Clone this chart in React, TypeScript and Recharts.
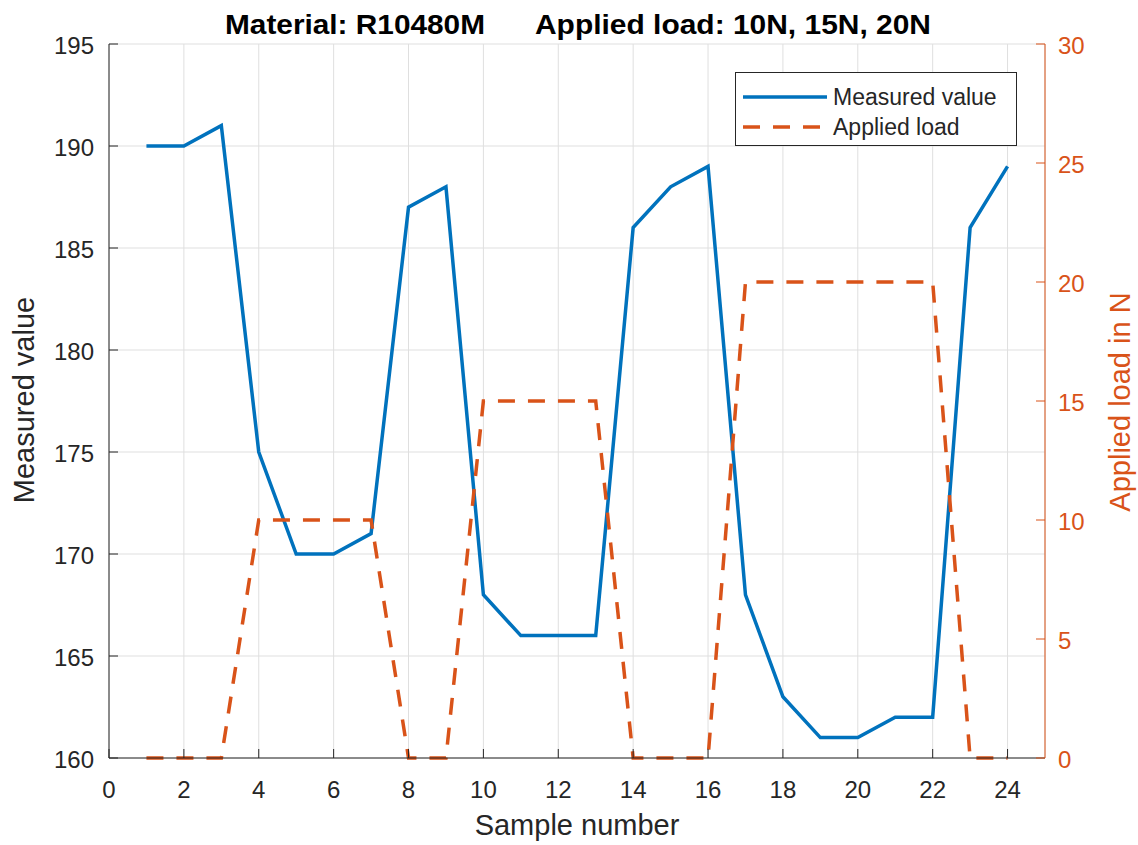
import { LineChart, Line, XAxis, YAxis, CartesianGrid, Legend, Customized } from 'recharts';

const samples = [1, 2, 3, 4, 5, 6, 7, 8, 9, 10, 11, 12, 13, 14, 15, 16, 17, 18, 19, 20, 21, 22, 23, 24];
const measured = [190, 190, 191, 175, 170, 170, 171, 187, 188, 168, 166, 166, 166, 186, 188, 189, 168, 163, 161, 161, 162, 162, 186, 189];
const load = [0, 0, 0, 10, 10, 10, 10, 0, 0, 15, 15, 15, 15, 0, 0, 0, 20, 20, 20, 20, 20, 20, 0, 0];

const xTicks = [0, 2, 4, 6, 8, 10, 12, 14, 16, 18, 20, 22, 24];
const leftTicks = [160, 165, 170, 175, 180, 185, 190, 195];
const rightTicks = [0, 5, 10, 15, 20, 25, 30];

const data = samples.map((s, i) => ({ x: s, measured: measured[i], load: load[i] }));

const BLUE = '#0072BD';
const ORANGE = '#D95319';
const DARK = '#262626';
const FONT = '"Liberation Sans", Arial, Helvetica, sans-serif';

const BottomTick = ({ x, y, payload }: any) => (
  <g>
    <line x1={x} y1={y} x2={x} y2={y - 9} stroke={DARK} strokeWidth={1} />
    <text x={x} y={y + 40} textAnchor="middle" fontSize={24} fill={DARK} fontFamily={FONT}>
      {payload.value}
    </text>
  </g>
);

const TopTick = ({ x, y }: any) => (
  <line x1={x} y1={y} x2={x} y2={y + 9} stroke={DARK} strokeWidth={1} />
);

const LeftTick = ({ x, y, payload }: any) => (
  <g>
    <line x1={x} y1={y} x2={x + 9} y2={y} stroke={DARK} strokeWidth={1} />
    <text x={x - 15} y={y + 10} textAnchor="end" fontSize={24} fill={DARK} fontFamily={FONT}>
      {payload.value}
    </text>
  </g>
);

const RightTick = ({ x, y, payload }: any) => (
  <g>
    <line x1={x} y1={y} x2={x - 9} y2={y} stroke={ORANGE} strokeWidth={1} />
    <text x={x + 13} y={y + 10} textAnchor="start" fontSize={24} fill={ORANGE} fontFamily={FONT}>
      {payload.value}
    </text>
  </g>
);

const LegendBox = () => (
  <div
    style={{
      width: 280,
      height: 72,
      border: `1px solid ${DARK}`,
      background: '#fff',
      position: 'relative',
    }}
  >
    <svg width={280} height={72} style={{ position: 'absolute', left: 0, top: 0 }}>
      <line x1={7} y1={24} x2={91} y2={24} stroke={BLUE} strokeWidth={3.5} />
      <line x1={7} y1={54} x2={91} y2={54} stroke={ORANGE} strokeWidth={3.5} strokeDasharray="17 13" />
      <text x={97} y={32} fontSize={23} fill={DARK} fontFamily={FONT}>Measured value</text>
      <text x={97} y={62} fontSize={23} fill={DARK} fontFamily={FONT}>Applied load</text>
    </svg>
  </div>
);

const Labels = () => (
  <g fontFamily={FONT}>
    <text x={225} y={34} fontSize={28} fontWeight="bold" fill="#000" textLength={260} lengthAdjust="spacingAndGlyphs">
      Material: R10480M
    </text>
    <text x={535} y={34} fontSize={28} fontWeight="bold" fill="#000" textLength={396} lengthAdjust="spacingAndGlyphs">
      Applied load: 10N, 15N, 20N
    </text>
    <text x={577} y={835} fontSize={29} fill={DARK} textAnchor="middle">Sample number</text>
    <text x={-400} y={34} fontSize={29} fill={DARK} textAnchor="middle" transform="rotate(-90)">
      Measured value
    </text>
    <text x={-402} y={1130} fontSize={29} fill={ORANGE} textAnchor="middle" transform="rotate(-90)">
      Applied load in N
    </text>
  </g>
);

export default function App() {
  return (
    <div style={{ position: 'absolute', left: 0, top: 0, background: '#fff' }}>
      <LineChart width={1138} height={845} data={data} margin={{ top: 44, right: 0, bottom: 0, left: 0 }}>
        <CartesianGrid yAxisId="left" stroke="#dfdfdf" strokeWidth={1} />
        <XAxis
          dataKey="x"
          type="number"
          domain={[0, 25]}
          ticks={xTicks}
          allowDataOverflow
          height={87}
          axisLine={{ stroke: DARK }}
          tickLine={false}
          tickSize={0}
          tickMargin={0}
          tick={<BottomTick />}
        />
        <XAxis
          xAxisId="top"
          dataKey="x"
          type="number"
          orientation="top"
          domain={[0, 25]}
          ticks={xTicks}
          height={0}
          axisLine={{ stroke: DARK }}
          tickLine={false}
          tickSize={0}
          tickMargin={0}
          tick={<TopTick />}
        />
        <YAxis
          yAxisId="left"
          domain={[160, 195]}
          ticks={leftTicks}
          width={109}
          axisLine={{ stroke: DARK }}
          tickLine={false}
          tickSize={0}
          tickMargin={0}
          tick={<LeftTick />}
        />
        <YAxis
          yAxisId="right"
          orientation="right"
          domain={[0, 30]}
          ticks={rightTicks}
          width={93}
          axisLine={{ stroke: ORANGE }}
          tickLine={false}
          tickSize={0}
          tickMargin={0}
          tick={<RightTick />}
        />
        <Line
          yAxisId="left"
          dataKey="measured"
          type="linear"
          stroke={BLUE}
          strokeWidth={3.5}
          dot={false}
          isAnimationActive={false}
        />
        <Line
          yAxisId="right"
          dataKey="load"
          type="linear"
          stroke={ORANGE}
          strokeWidth={3.5}
          strokeDasharray="17 13"
          dot={false}
          isAnimationActive={false}
        />
        <Legend
          layout="vertical"
          align="center"
          verticalAlign="middle"
          wrapperStyle={{ left: 735, top: 72, width: 282, height: 74 }}
          content={<LegendBox />}
        />
        <Customized component={<Labels />} />
      </LineChart>
    </div>
  );
}
